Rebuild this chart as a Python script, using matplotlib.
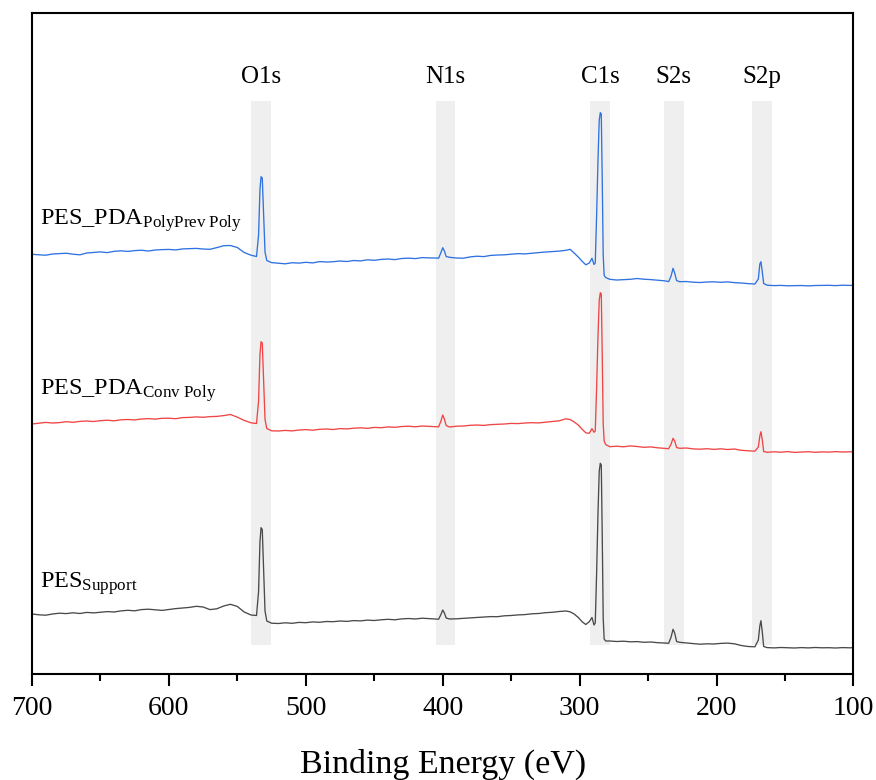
import matplotlib
matplotlib.use("Agg")
import matplotlib.pyplot as plt
from matplotlib.ticker import MultipleLocator

plt.rcParams["font.family"] = ["Liberation Serif", "DejaVu Serif"]
plt.rcParams["mathtext.fontset"] = "custom"
plt.rcParams["mathtext.rm"] = "Liberation Serif"
plt.rcParams["mathtext.it"] = "Liberation Serif:italic"
plt.rcParams["mathtext.bf"] = "Liberation Serif:bold"

# Binding energy grid (eV), shared by the three survey spectra
energy = [
    700, 695, 690, 685, 680, 675, 670, 665, 660, 655, 650, 645, 640, 635, 630, 625,
    620, 615, 610, 605, 600, 595, 590, 585, 580, 575, 570, 565, 560, 555, 550, 545, 540,
    536, 534.5, 533.5, 532.7, 531.8, 530.8, 529.8, 528.5,
    525, 520, 515, 510, 505, 500, 495, 490, 485, 480, 475, 470, 465, 460, 455, 450,
    445, 440, 435, 430, 425, 420, 415, 410, 405,
    403, 401.3, 400, 398.8, 397.5, 395,
    390, 385, 380, 375, 370, 365, 360, 355, 350, 345, 340, 335, 330, 325, 320, 315, 310,
    307, 304, 301, 298, 295.5, 293, 291, 289.5,
    288.6, 287.6, 286.6, 285.7, 284.9, 284.2, 283.5, 282.8, 282.1, 281.0,
    278, 273, 268, 263, 258, 253, 248, 243, 238, 235,
    233.2, 231.8, 230.6, 229.2,
    227, 222, 217, 212, 207, 202, 197, 192, 187, 182, 177, 172,
    169.5, 168.4, 167.6, 166.6, 165.6,
    163, 158, 153, 148, 143, 138, 133, 128, 123, 118, 113, 108, 103, 100,
]

# Stacked intensities (a.u.)
pes_pda_polyprev = [
    419.7, 419.2, 418.8, 420.0, 420.4, 420.8, 419.8, 419.2, 421.0, 421.6, 422.1, 421.4, 422.7, 423.2, 422.6, 423.4,
    423.8, 423.0, 424.0, 424.4, 424.6, 424.1, 425.1, 425.4, 425.6, 425.0, 424.7, 426.4, 428.3, 428.5, 426.5, 421.5, 418.8,
    417.5, 439, 484, 497.3, 496, 459, 422, 413.5,
    411.4, 410.8, 410.2, 411.3, 410.9, 411.7, 411.1, 412.4, 412.0, 412.3, 413.0, 412.5, 413.5, 413.1, 414.2, 413.7,
    414.6, 415.0, 414.4, 415.5, 415.9, 415.4, 416.4, 416.1, 416.0,
    415.8, 421.5, 426.3, 423, 417.5, 416.7,
    416.0, 415.8, 417.1, 417.8, 417.4, 418.6, 419.0, 419.2, 419.8, 420.4, 420.1, 420.8, 421.4, 422.0, 422.4, 422.9, 423.7,
    424.7, 421.0, 417.0, 412.5, 409.2, 411.0, 415.7, 409.5,
    411, 459, 514, 554, 561.3, 560, 494, 419, 398.5, 396.5,
    394.7, 394.0, 394.4, 394.7, 395.5, 394.8, 394.4, 393.8, 393.2, 392.4,
    398, 405.7, 401, 393.5,
    392.3, 392.5, 391.8, 391.5, 392.0, 392.2, 391.7, 392.1, 391.4, 391.0, 390.4, 390.0,
    395, 410, 412.3, 402, 390.5,
    388.8, 388.4, 388.6, 388.2, 388.4, 388.5, 388.1, 388.5, 388.6, 388.7, 388.4, 388.8, 388.6, 388.7,
]

pes_pda_conv = [
    250.0, 250.8, 251.6, 251.0, 251.4, 252.3, 251.7, 252.6, 253.0, 252.5, 253.3, 253.8, 253.2, 254.2, 254.5, 254.1,
    255.0, 255.4, 254.9, 255.7, 255.8, 255.3, 256.4, 256.6, 257.1, 256.7, 257.4, 257.6, 258.4, 259.5, 256.8, 253.6, 251.2,
    250.5, 273, 319, 332.3, 331, 292.4, 254.6, 245.5,
    243.2, 243.0, 243.6, 243.1, 244.0, 244.4, 243.8, 244.7, 245.0, 244.5, 245.4, 245.1, 245.8, 246.2, 245.7, 246.6,
    246.3, 247.1, 246.7, 247.5, 247.8, 247.2, 248.0, 247.6, 247.3,
    247.2, 253, 259, 255, 248.5, 247,
    247.8, 248.0, 248.7, 249.0, 248.6, 249.4, 249.7, 250.0, 250.6, 250.4, 251.0, 251.3, 251.1, 251.8, 252.4, 253.2, 255.2,
    254.5, 252.0, 249.0, 244.5, 241.2, 240.7, 245.3, 241.7,
    243, 286.5, 338, 374, 381.3, 380, 319, 250, 233, 229.5,
    227.3, 227.8, 227.2, 228.1, 227.5, 226.7, 227.1, 226.2, 225.6, 225.3,
    230, 235.7, 233, 226.5,
    225.7, 226.0, 225.1, 224.8, 225.3, 224.6, 225.2, 224.5, 225.0, 223.7, 223.2, 222.8,
    227, 238, 242.3, 234, 222.5,
    221.7, 222.2, 221.8, 222.4, 221.6, 222.0, 222.3, 221.7, 222.1, 221.9, 222.4, 222.0, 222.2, 222.3,
]

pes_support = [
    60.0, 59.2, 58.8, 60.0, 60.8, 60.4, 61.2, 60.5, 61.6, 61.1, 61.7, 62.4, 62.0, 63.1, 63.7, 63.2,
    64.4, 64.8, 64.2, 63.6, 64.5, 65.4, 66.0, 66.6, 67.7, 67.0, 64.4, 65.2, 68.0, 69.7, 67.5, 62.0, 59.0,
    58.5, 82.5, 131.7, 146.3, 144.5, 104, 63, 53,
    50.8, 50.5, 51.2, 50.7, 51.6, 51.3, 52.1, 51.7, 52.5, 52.3, 53.0, 52.6, 53.4, 53.1, 53.9, 53.5,
    54.2, 54.7, 54.2, 55.1, 55.5, 55.0, 55.8, 55.4, 55.0,
    54.8, 59.5, 64, 61, 56, 55,
    55.2, 55.7, 56.1, 56.5, 56.8, 57.4, 57.3, 58.2, 58.5, 59.1, 59.4, 60.2, 60.5, 61.3, 61.7, 62.5, 63.0,
    62.2, 60.0, 56.5, 52.0, 49.5, 52.3, 56.5, 49.0,
    51, 101, 161, 203, 210.7, 209, 138, 56, 35, 33,
    33.0, 32.5, 32.8, 32.2, 32.4, 31.7, 32.0, 31.3, 31.0, 30.7,
    37, 44.7, 41, 32.5,
    31.7, 31.0, 30.4, 29.8, 30.2, 30.0, 30.6, 30.9, 30.2, 28.5, 27.5, 27.2,
    34, 48, 53.3, 42, 27.5,
    26.4, 26.1, 26.5, 26.2, 26.0, 26.4, 26.1, 26.5, 26.2, 26.3, 26.0, 26.4, 26.2, 26.3,
]

series_labels = [
    r"PES_PDA$_{\mathrm{PolyPrev\ Poly}}$",
    r"PES_PDA$_{\mathrm{Conv\ Poly}}$",
    r"PES$_{\mathrm{Support}}$",
]
series_colors = ["#2f72e0", "#f04545", "#4a4a4a"]
label_y = [449, 279, 86]

# Characteristic core-level regions
peak_names = ["O1s", "N1s", "C1s", "S2s", "S2p"]
peak_centers = [532.5, 398.0, 285.2, 231.2, 167.0]
band_halfwidth = 7.2

fig = plt.figure(figsize=(8.76, 7.8), dpi=100)
ax = fig.add_axes([0.0365, 0.1359, 0.9378, 0.8474])

for c in peak_centers:
    ax.axvspan(c + band_halfwidth, c - band_halfwidth, ymin=0.044, ymax=0.867,
               color="#efefef", lw=0, zorder=0)

for ys, col in zip([pes_pda_polyprev, pes_pda_conv, pes_support], series_colors):
    ax.plot(energy, ys, color=col, lw=0.95, zorder=2)

for name, c in zip(peak_names, peak_centers):
    ax.text(c, 591, name, ha="center", va="baseline", fontsize=18)

for lab, y in zip(series_labels, label_y):
    ax.text(694, y, lab, ha="left", va="baseline", fontsize=17.5)

ax.set_xlim(700, 100)
ax.set_ylim(0, 661)
ax.xaxis.set_major_locator(MultipleLocator(100))
ax.xaxis.set_minor_locator(MultipleLocator(50))
ax.set_yticks([])
ax.tick_params(axis="x", which="major", direction="out", length=8.5, width=1.5,
               labelsize=20, pad=7)
ax.tick_params(axis="x", which="minor", direction="out", length=5, width=1.5)
for sp in ax.spines.values():
    sp.set_linewidth(1.5)

ax.set_xlabel("Binding Energy (eV)", fontsize=24.5, labelpad=20)

fig.savefig("out.png", dpi=100)
